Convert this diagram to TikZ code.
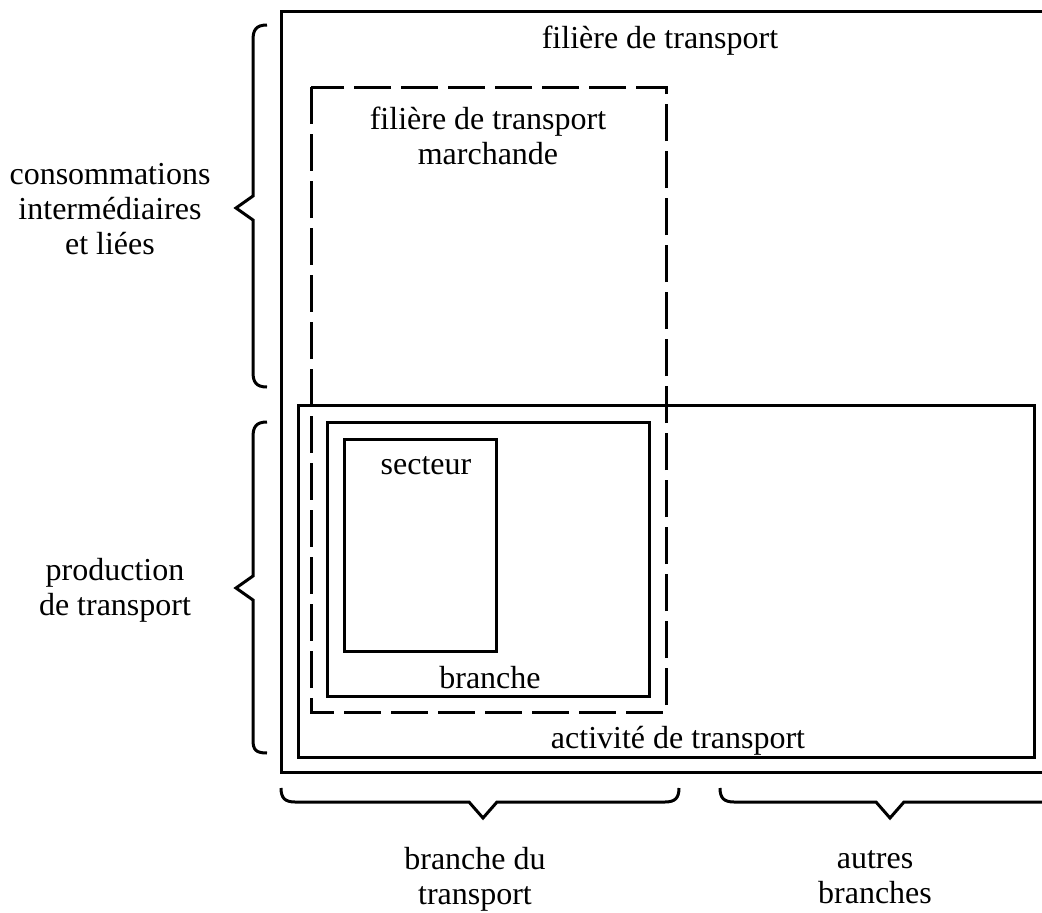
\documentclass[tikz,border=0pt]{standalone}
\usepackage{fontspec}
\setmainfont{Liberation Serif}
\tikzset{
  frame/.style={line width=3pt},
  dashframe/.style={line width=3pt, dash pattern=on 37pt off 10pt},
  bracepath/.style={line width=3pt, line join=miter},
  lbl/.style={font=\fontsize{32}{35}\selectfont, inner sep=0pt, align=center},
}
\begin{document}
\begin{tikzpicture}[x=1pt,y=-1pt]
\useasboundingbox (0,0) rectangle (1042,913);
\clip (0,0) rectangle (1042,913);
% frames
\draw[frame] (1050,11) -- (281,11) -- (281,772) -- (1050,772);
\draw[dashframe] (311,87) rectangle (666,712);
\draw[frame] (298,405) rectangle (1034,757);
\draw[frame] (327,422) rectangle (649,696);
\draw[frame] (344,439) rectangle (496,651);
% braces
\draw[bracepath] (267,25) .. controls (256,25) and (253,30) .. (253,40) -- (253,196) -- (236,208) -- (253,220) -- (253,372) .. controls (253,382) and (256,387) .. (267,387);
\draw[bracepath] (267,422) .. controls (256,422) and (253,427) .. (253,437) -- (253,576) -- (236,588) -- (253,600) -- (253,740) .. controls (253,750) and (256,753) .. (267,753);
\draw[bracepath] (281,788) .. controls (281,798) and (285,802) .. (295,802) -- (469,802) -- (483,818) -- (497,802) -- (665,802) .. controls (675,802) and (679,798) .. (679,788);
\draw[bracepath] (720,788) .. controls (720,798) and (724,802) .. (734,802) -- (876,802) -- (890,818) -- (904,802) -- (1050,802);
% labels
\node[lbl, anchor=base] (ft) at (660,48) {filière de transport};
\node[lbl] (ftm) at (488,136) {filière de transport\\marchande};
\node[lbl] (ci) at (110,209) {consommations\\intermédiaires\\et liées};
\node[lbl] (pt) at (115,590) {production\\de transport};
\node[lbl, anchor=base] (sec) at (426,474) {secteur};
\node[lbl, anchor=base] (br) at (490,688) {branche};
\node[lbl, anchor=base] (act) at (678,748) {activité de transport};
\node[lbl] (bdt) at (475,879) {branche du\\transport};
\node[lbl] (ab) at (875,877) {autres\\branches};
\end{tikzpicture}
\end{document}
